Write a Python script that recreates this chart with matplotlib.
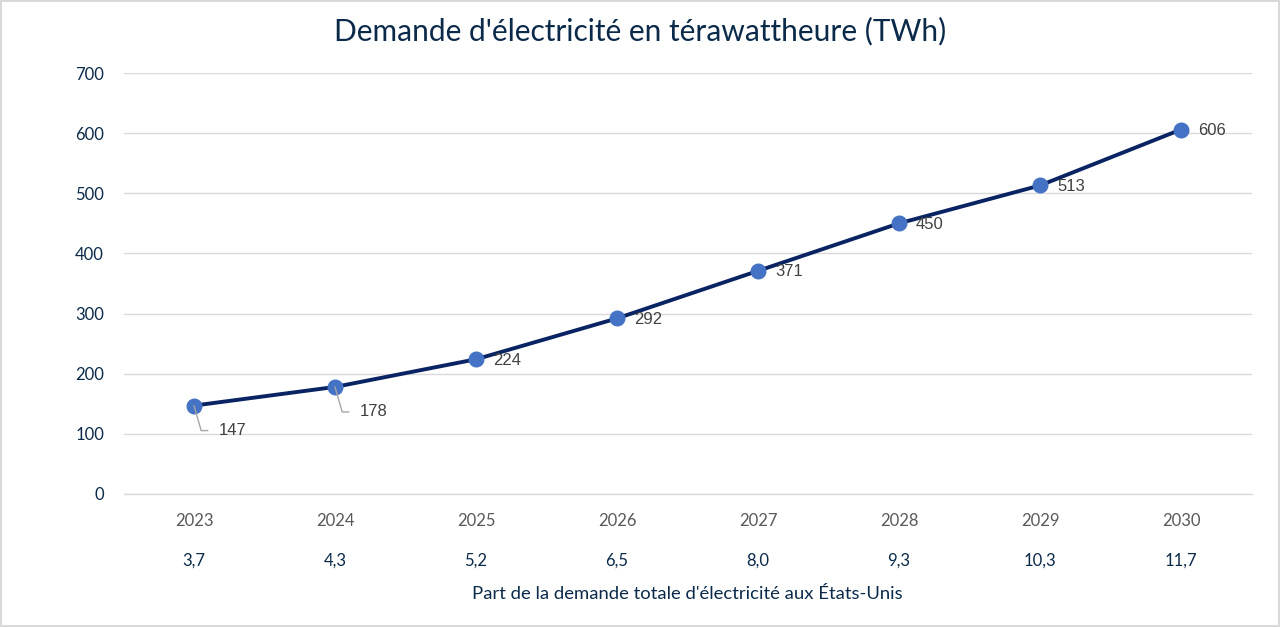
import matplotlib.pyplot as plt
from matplotlib.transforms import blended_transform_factory

# data
years = ['2023', '2024', '2025', '2026', '2027', '2028', '2029', '2030']
demand_twh = [147, 178, 224, 292, 371, 450, 513, 606]
share_pct = ['3,7', '4,3', '5,2', '6,5', '8,0', '9,3', '10,3', '11,7']

NAVY = '#0b2a4a'
LINE = '#0a2463'
MARKER = '#4472c4'
GREY_TXT = '#595959'
GRID = '#d9d9d9'

plt.rcParams['font.family'] = ['Lato', 'DejaVu Sans']

fig = plt.figure(figsize=(12.8, 6.27), dpi=100)
fig.patch.set_edgecolor(GRID)
fig.patch.set_linewidth(1.5)
ax = fig.add_axes([123.5 / 1280, 1 - 494 / 627, 1128 / 1280, 421 / 627])

x = list(range(len(years)))
ax.plot(x, demand_twh, color=LINE, lw=2.8, zorder=3, solid_capstyle='round')
ax.plot(x, demand_twh, 'o', ms=10.5, color=MARKER, zorder=4)

ax.set_xlim(-0.5, len(years) - 0.5)
ax.set_ylim(0, 700)
ax.set_yticks(range(0, 701, 100))
ax.grid(axis='y', color=GRID, lw=1)
ax.axhline(0, color=GRID, lw=1, clip_on=False, zorder=0)
ax.set_axisbelow(True)
for s in ax.spines.values():
    s.set_visible(False)
ax.tick_params(axis='y', length=0, pad=14, labelsize=12, labelcolor=NAVY)
ax.set_xticks(x)
ax.set_xticklabels(years)
ax.tick_params(axis='x', length=0, pad=14, labelsize=12, labelcolor=GREY_TXT)

# value labels (first two use leader lines)
lab_font = ['Liberation Sans', 'DejaVu Sans']
for i, v in enumerate(demand_twh):
    if i < 2:
        ax.annotate(str(v), xy=(i, v), xytext=(25, -25), textcoords='offset pixels',
                    ha='left', va='center', fontsize=12, color='#404040', family=lab_font,
                    zorder=5,
                    arrowprops=dict(arrowstyle='-', color='#a6a6a6', lw=1,
                                    relpos=(0, 0.5), shrinkA=6, shrinkB=0,
                                    connectionstyle='angle,angleA=0,angleB=106,rad=0'))
    else:
        ax.annotate(str(v), xy=(i, v), xytext=(17, -1), textcoords='offset pixels',
                    ha='left', va='center', fontsize=12, color='#404040', family=lab_font)

# second row of category labels: share of total US demand
tr = blended_transform_factory(ax.transData, ax.transAxes)
for i, s in enumerate(share_pct):
    ax.annotate(s, xy=(i, 0), xycoords=tr, xytext=(0, -67), textcoords='offset pixels',
                ha='center', va='center', fontsize=12, color=NAVY)

ax.annotate("Part de la demande totale d'électricité aux États-Unis", xy=(0.5, 0),
            xycoords='axes fraction', xytext=(0, -100), textcoords='offset pixels',
            ha='center', va='center', fontsize=13.3, color=NAVY)

fig.text(0.5, 1 - 31 / 627, "Demande d'électricité en térawattheure (TWh)",
         ha='center', va='center', fontsize=21.5, color=NAVY)

fig.savefig('out.png', dpi=100, edgecolor=fig.get_edgecolor())
